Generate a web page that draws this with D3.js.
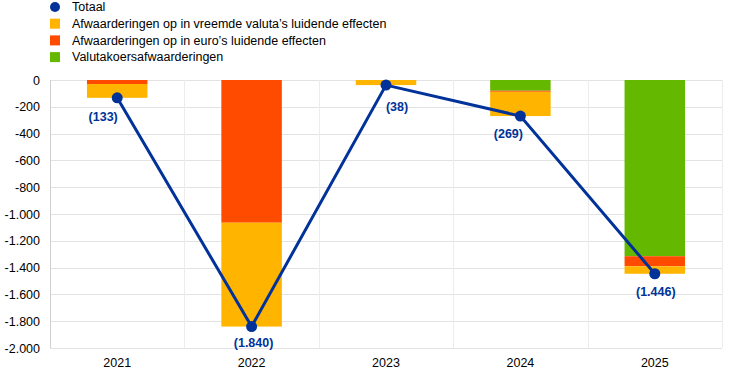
<!DOCTYPE html>
<html>
<head>
<meta charset="utf-8">
<script src="https://cdn.jsdelivr.net/npm/d3@7"></script>
<style>
body { margin: 0; background: #fff; }
text { font-family: "Liberation Sans", Arial, sans-serif; }
</style>
</head>
<body>
<div id="chart"></div>
<script>
// years and stacked parts
var years = ['2021', '2022', '2023', '2024', '2025'];
var vreemdeValuta = [-103, -775, -38, -181, -56];
var euroEffecten = [-30, -1065, 0, -8, -75];
var valutaKoers = [0, 0, 0, -80, -1315];
var totaal = [-133, -1840, -38, -269, -1446];
var totaalLabels = ['(133)', '(1.840)', '(38)', '(269)', '(1.446)'];
var yTicks = [0, -200, -400, -600, -800, -1000, -1200, -1400, -1600, -1800, -2000];

var legendNames = ['Totaal', 'Afwaarderingen op in vreemde valuta\u2019s luidende effecten',
	'Afwaarderingen op in euro\u2019s luidende effecten', 'Valutakoersafwaarderingen'];

var blue = '#003299', yellow = '#ffb400', red = '#ff4b00', green = '#65b800';

// label nudges so they sit clear of the line
var labelDx = [-14, 2, 11, -12, 1];
var labelDy = [23, 20, 26, 22, 22];

var width = 743, height = 374;
var margin = {top: 80, right: 21, bottom: 26, left: 50};

var svg = d3.select('#chart').append('svg')
	.attr('width', width)
	.attr('height', height);

var x = d3.scaleBand()
	.domain(years)
	.range([margin.left, width - margin.right])
	.paddingInner(0.55)
	.paddingOuter(0.275);

var xOuter = d3.scaleBand()
	.domain(years)
	.range([margin.left, width - margin.right]);

var y = d3.scaleLinear()
	.domain([0, -2000])
	.range([margin.top, height - margin.bottom]);

// horizontal gridlines
svg.append('g').selectAll('line')
	.data(yTicks)
	.enter().append('line')
	.attr('x1', margin.left)
	.attr('x2', width - margin.right)
	.attr('y1', function(d){ return Math.round(y(d)) + 0.5; })
	.attr('y2', function(d){ return Math.round(y(d)) + 0.5; })
	.style('stroke', '#e3e3e3')
	.style('stroke-width', 1);

// vertical separators
var seps = years.map(function(d){ return xOuter(d); }).concat([width - margin.right]);
svg.append('g').selectAll('line')
	.data(seps)
	.enter().append('line')
	.attr('x1', function(d){ return Math.round(d) + 0.5; })
	.attr('x2', function(d){ return Math.round(d) + 0.5; })
	.attr('y1', margin.top)
	.attr('y2', height - margin.bottom)
	.style('stroke', function(d, i){ return i == 0 ? '#d0d0d0' : '#ececec'; })
	.style('stroke-width', 1);

// y axis labels
var yAxis = d3.axisLeft(y)
	.tickValues(yTicks)
	.tickSize(0)
	.tickPadding(10)
	.tickFormat(function(d){ return d3.format(',')(d).replace(/,/g, '.').replace('\u2212', '-'); });

svg.append('g')
	.attr('transform', 'translate(' + margin.left + ',0)')
	.call(yAxis)
	.call(function(g){ g.select('.domain').remove(); })
	.selectAll('text')
	.style('font-size', '12.5px')
	.style('fill', '#000');

// x axis labels
var xAxis = d3.axisBottom(xOuter).tickSize(0).tickPadding(10);
svg.append('g')
	.attr('transform', 'translate(0,' + (height - margin.bottom) + ')')
	.call(xAxis)
	.call(function(g){ g.select('.domain').remove(); })
	.selectAll('text')
	.style('font-size', '12.5px')
	.style('fill', '#000');

// stacked bars (all negative)
var rows = years.map(function(d, i){
	return {year: d, valuta: valutaKoers[i], euro: euroEffecten[i], vreemd: vreemdeValuta[i]};
});
var stack = d3.stack()
	.keys(['valuta', 'euro', 'vreemd'])
	.offset(d3.stackOffsetDiverging);
var series = stack(rows);
var colors = {valuta: green, euro: red, vreemd: yellow};

svg.append('g').selectAll('g')
	.data(series)
	.enter().append('g')
	.style('fill', function(d){ return colors[d.key]; })
	.selectAll('rect')
	.data(function(d){ return d; })
	.enter().append('rect')
	.attr('x', function(d){ return x(d.data.year); })
	.attr('width', x.bandwidth())
	.attr('y', function(d){ return y(Math.max(d[0], d[1])); })
	.attr('height', function(d){ return Math.abs(y(d[0]) - y(d[1])); });

// totaal line
var line = d3.line()
	.x(function(d, i){ return xOuter(years[i]) + xOuter.bandwidth() / 2; })
	.y(function(d){ return y(d); });

svg.append('path')
	.datum(totaal)
	.attr('d', line)
	.style('fill', 'none')
	.style('stroke', blue)
	.style('stroke-width', 3);

svg.append('g').selectAll('circle')
	.data(totaal)
	.enter().append('circle')
	.attr('cx', function(d, i){ return xOuter(years[i]) + xOuter.bandwidth() / 2; })
	.attr('cy', function(d){ return y(d); })
	.attr('r', 5.5)
	.style('fill', blue);

svg.append('g').selectAll('text')
	.data(totaal)
	.enter().append('text')
	.attr('x', function(d, i){ return xOuter(years[i]) + xOuter.bandwidth() / 2 + labelDx[i]; })
	.attr('y', function(d, i){ return y(d) + labelDy[i]; })
	.style('text-anchor', 'middle')
	.style('font-size', '12.5px')
	.style('font-weight', 'bold')
	.style('fill', blue)
	.text(function(d, i){ return totaalLabels[i]; });

// legend
var legend = svg.selectAll('.legend')
	.data(legendNames)
	.enter().append('g')
	.attr('class', 'legend')
	.attr('transform', function(d, i){ return 'translate(55,' + (7 + i * 16.7) + ')'; });

legend.each(function(d, i){
	var g = d3.select(this);
	if (i == 0) {
		g.append('circle').attr('r', 5).attr('cx', 0).attr('cy', 0).style('fill', blue);
	} else {
		g.append('rect').attr('x', -5).attr('y', -5).attr('width', 10).attr('height', 10)
			.style('fill', [yellow, red, green][i - 1]);
	}
});

legend.append('text')
	.attr('x', 17)
	.attr('y', 0)
	.attr('dy', '.35em')
	.style('font-size', '12.5px')
	.style('fill', '#000')
	.text(function(d){ return d; });
</script>
</body>
</html>
